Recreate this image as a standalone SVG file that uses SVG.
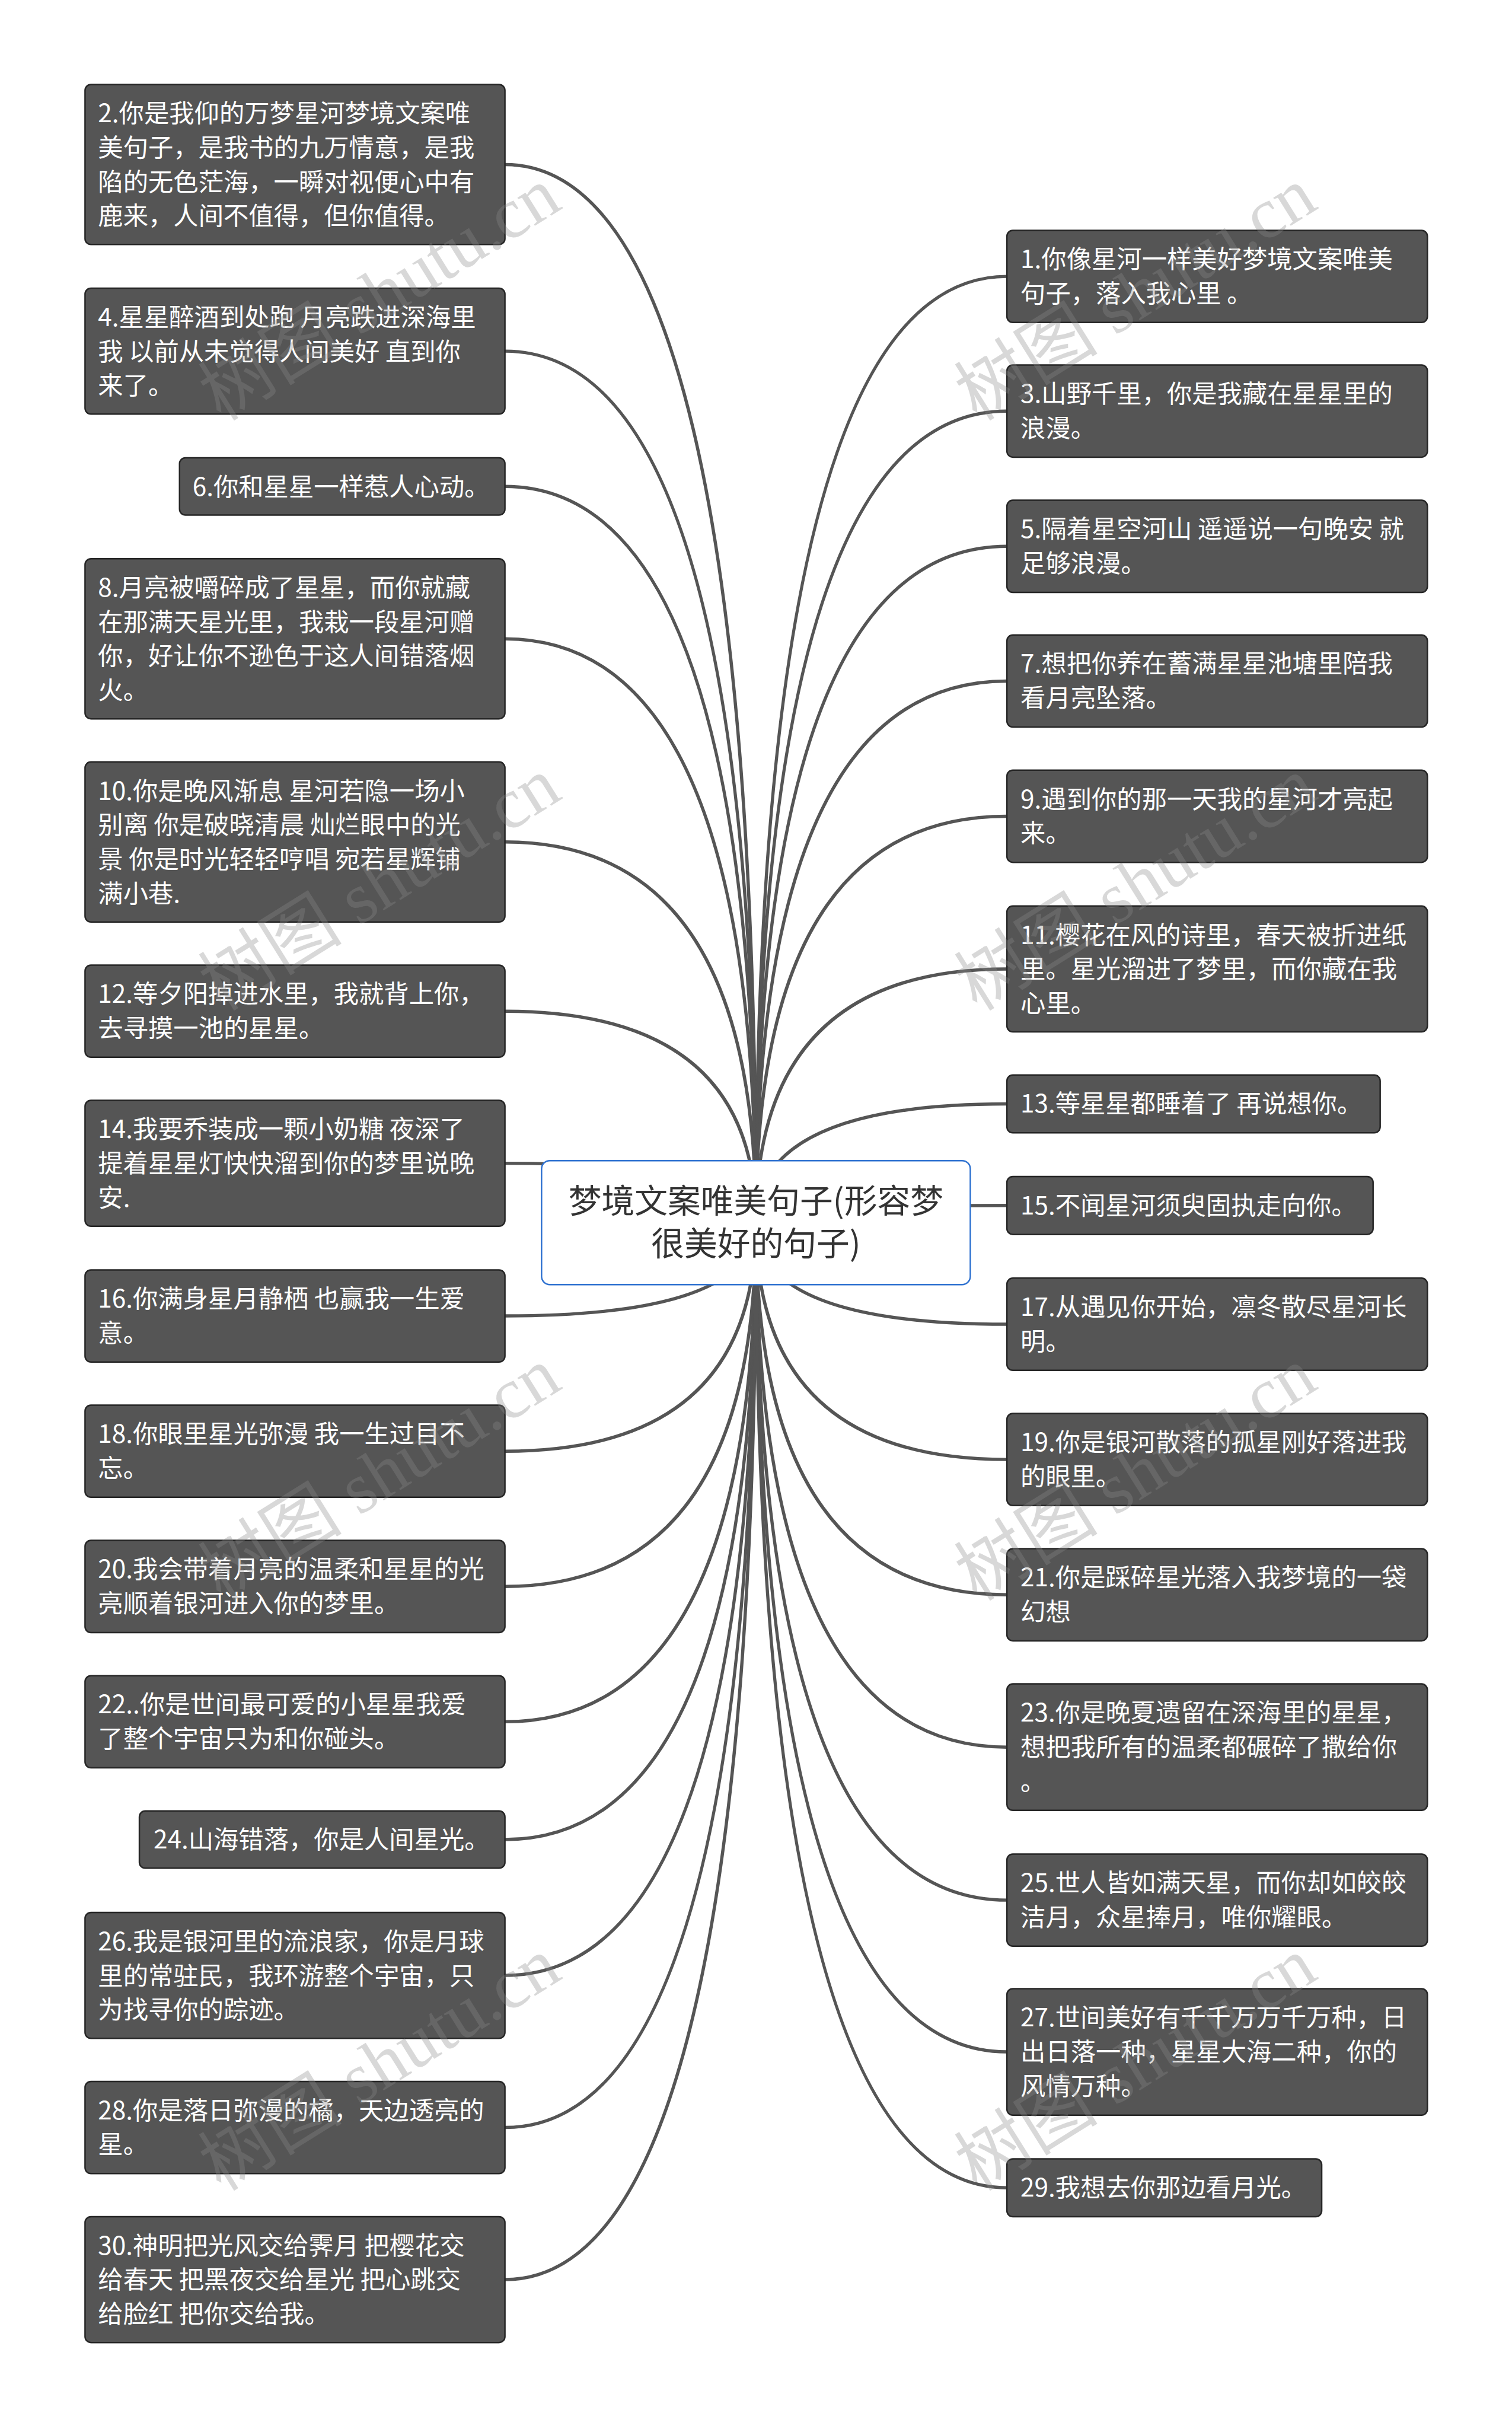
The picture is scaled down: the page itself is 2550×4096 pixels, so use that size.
<svg xmlns="http://www.w3.org/2000/svg" width="2550" height="4096" viewBox="0 0 2550 4096">
<style>
.n rect{fill:#555555;stroke:#262626;stroke-width:2.5}
.n text{fill:#ffffff;font-family:"Noto Sans CJK SC","Microsoft YaHei",sans-serif;font-size:42.5px}
#root rect{fill:#ffffff;stroke:#2f72d0;stroke-width:2.5}
#root text{fill:#333333;font-family:"Noto Sans CJK SC",sans-serif;font-size:56px;text-anchor:middle}
#connectors path{fill:none;stroke:#555555;stroke-width:5.5;stroke-linecap:round}
.wm{font-family:"Liberation Serif","Noto Sans CJK SC",serif;font-size:122px;fill:#8a8a8a;fill-opacity:0.33;text-anchor:middle;dominant-baseline:central}
</style>
<rect x="0" y="0" width="2550" height="4096" fill="#ffffff"/>
<g transform="scale(0.996)">
<g id="connectors">
<path d="M855,278.5 Q1280,278.5 1280,2070"/>
<path d="M855,594.5 Q1280,594.5 1280,2070"/>
<path d="M855,823.5 Q1280,823.5 1280,2070"/>
<path d="M855,1081.5 Q1280,1081.5 1280,2070"/>
<path d="M855,1425.5 Q1280,1425.5 1280,2070"/>
<path d="M855,1712 Q1280,1712 1280,2070"/>
<path d="M855,1969.5 Q1280,1969.5 1280,2070"/>
<path d="M855,2228 Q1280,2228 1280,2070"/>
<path d="M855,2457 Q1280,2457 1280,2070"/>
<path d="M855,2686 Q1280,2686 1280,2070"/>
<path d="M855,2915 Q1280,2915 1280,2070"/>
<path d="M855,3114.5 Q1280,3114.5 1280,2070"/>
<path d="M855,3344.5 Q1280,3344.5 1280,2070"/>
<path d="M855,3602 Q1280,3602 1280,2070"/>
<path d="M855,3859.5 Q1280,3859.5 1280,2070"/>
<path d="M1705,468 Q1280,468 1280,2070"/>
<path d="M1705,696 Q1280,696 1280,2070"/>
<path d="M1705,925 Q1280,925 1280,2070"/>
<path d="M1705,1153 Q1280,1153 1280,2070"/>
<path d="M1705,1382 Q1280,1382 1280,2070"/>
<path d="M1705,1640.5 Q1280,1640.5 1280,2070"/>
<path d="M1705,1869 Q1280,1869 1280,2070"/>
<path d="M1705,2041 Q1280,2041 1280,2070"/>
<path d="M1705,2242 Q1280,2242 1280,2070"/>
<path d="M1705,2471 Q1280,2471 1280,2070"/>
<path d="M1705,2700 Q1280,2700 1280,2070"/>
<path d="M1705,2958 Q1280,2958 1280,2070"/>
<path d="M1705,3217 Q1280,3217 1280,2070"/>
<path d="M1705,3474 Q1280,3474 1280,2070"/>
<path d="M1705,3704 Q1280,3704 1280,2070"/>
</g>
<g id="root">
<rect x="917" y="1965" width="726" height="210" rx="14"/>
<text x="1280" y="2053"><tspan x="1280" y="2053">梦境文案唯美句子(形容梦</tspan><tspan x="1280" y="2126">很美好的句子)</tspan></text>
</g>
<g id="n2" class="n"><rect x="144" y="143" width="711" height="271" rx="10"/>
<text x="166" y="207">2.你是我仰的万梦星河梦境文案唯</text><text x="166" y="265">美句子，是我书的九万情意，是我</text><text x="166" y="323">陷的无色茫海，一瞬对视便心中有</text><text x="166" y="381">鹿来，人间不值得，但你值得。</text></g>
<g id="n4" class="n"><rect x="144" y="488" width="711" height="213" rx="10"/>
<text x="166" y="552">4.星星醉酒到处跑 月亮跌进深海里</text><text x="166" y="610">我 以前从未觉得人间美好 直到你</text><text x="166" y="668">来了。</text></g>
<g id="n6" class="n"><rect x="304" y="775" width="551" height="97" rx="10"/>
<text x="326" y="839">6.你和星星一样惹人心动。</text></g>
<g id="n8" class="n"><rect x="144" y="946" width="711" height="271" rx="10"/>
<text x="166" y="1010">8.月亮被嚼碎成了星星，而你就藏</text><text x="166" y="1068">在那满天星光里，我栽一段星河赠</text><text x="166" y="1126">你，好让你不逊色于这人间错落烟</text><text x="166" y="1184">火。</text></g>
<g id="n10" class="n"><rect x="144" y="1290" width="711" height="271" rx="10"/>
<text x="166" y="1354">10.你是晚风渐息 星河若隐一场小</text><text x="166" y="1412">别离 你是破晓清晨 灿烂眼中的光</text><text x="166" y="1470">景 你是时光轻轻哼唱 宛若星辉铺</text><text x="166" y="1528">满小巷.</text></g>
<g id="n12" class="n"><rect x="144" y="1634" width="711" height="156" rx="10"/>
<text x="166" y="1698">12.等夕阳掉进水里，我就背上你，</text><text x="166" y="1756">去寻摸一池的星星。</text></g>
<g id="n14" class="n"><rect x="144" y="1863" width="711" height="213" rx="10"/>
<text x="166" y="1927">14.我要乔装成一颗小奶糖 夜深了</text><text x="166" y="1985">提着星星灯快快溜到你的梦里说晚</text><text x="166" y="2043">安.</text></g>
<g id="n16" class="n"><rect x="144" y="2150" width="711" height="156" rx="10"/>
<text x="166" y="2214">16.你满身星月静栖 也赢我一生爱</text><text x="166" y="2272">意。</text></g>
<g id="n18" class="n"><rect x="144" y="2379" width="711" height="156" rx="10"/>
<text x="166" y="2443">18.你眼里星光弥漫 我一生过目不</text><text x="166" y="2501">忘。</text></g>
<g id="n20" class="n"><rect x="144" y="2608" width="711" height="156" rx="10"/>
<text x="166" y="2672">20.我会带着月亮的温柔和星星的光</text><text x="166" y="2730">亮顺着银河进入你的梦里。</text></g>
<g id="n22" class="n"><rect x="144" y="2837" width="711" height="156" rx="10"/>
<text x="166" y="2901">22..你是世间最可爱的小星星我爱</text><text x="166" y="2959">了整个宇宙只为和你碰头。</text></g>
<g id="n24" class="n"><rect x="236" y="3066" width="619" height="97" rx="10"/>
<text x="260" y="3130">24.山海错落，你是人间星光。</text></g>
<g id="n26" class="n"><rect x="144" y="3238" width="711" height="213" rx="10"/>
<text x="166" y="3302">26.我是银河里的流浪家，你是月球</text><text x="166" y="3360">里的常驻民，我环游整个宇宙，只</text><text x="166" y="3418">为找寻你的踪迹。</text></g>
<g id="n28" class="n"><rect x="144" y="3524" width="711" height="156" rx="10"/>
<text x="166" y="3588">28.你是落日弥漫的橘，天边透亮的</text><text x="166" y="3646">星。</text></g>
<g id="n30" class="n"><rect x="144" y="3753" width="711" height="213" rx="10"/>
<text x="166" y="3817">30.神明把光风交给霁月 把樱花交</text><text x="166" y="3875">给春天 把黑夜交给星光 把心跳交</text><text x="166" y="3933">给脸红 把你交给我。</text></g>
<g id="n1" class="n"><rect x="1705" y="390" width="712" height="156" rx="10"/>
<text x="1728" y="454">1.你像星河一样美好梦境文案唯美</text><text x="1728" y="512">句子，落入我心里 。</text></g>
<g id="n3" class="n"><rect x="1705" y="618" width="712" height="156" rx="10"/>
<text x="1728" y="682">3.山野千里，你是我藏在星星里的</text><text x="1728" y="740">浪漫。</text></g>
<g id="n5" class="n"><rect x="1705" y="847" width="712" height="156" rx="10"/>
<text x="1728" y="911">5.隔着星空河山 遥遥说一句晚安 就</text><text x="1728" y="969">足够浪漫。</text></g>
<g id="n7" class="n"><rect x="1705" y="1075" width="712" height="156" rx="10"/>
<text x="1728" y="1139">7.想把你养在蓄满星星池塘里陪我</text><text x="1728" y="1197">看月亮坠落。</text></g>
<g id="n9" class="n"><rect x="1705" y="1304" width="712" height="156" rx="10"/>
<text x="1728" y="1368">9.遇到你的那一天我的星河才亮起</text><text x="1728" y="1426">来。</text></g>
<g id="n11" class="n"><rect x="1705" y="1534" width="712" height="213" rx="10"/>
<text x="1728" y="1598">11.樱花在风的诗里，春天被折进纸</text><text x="1728" y="1656">里。星光溜进了梦里，而你藏在我</text><text x="1728" y="1714">心里。</text></g>
<g id="n13" class="n"><rect x="1705" y="1820" width="632" height="98" rx="10"/>
<text x="1728" y="1884">13.等星星都睡着了 再说想你。</text></g>
<g id="n15" class="n"><rect x="1705" y="1992" width="620" height="98" rx="10"/>
<text x="1728" y="2056">15.不闻星河须臾固执走向你。</text></g>
<g id="n17" class="n"><rect x="1705" y="2164" width="712" height="156" rx="10"/>
<text x="1728" y="2228">17.从遇见你开始，凛冬散尽星河长</text><text x="1728" y="2286">明。</text></g>
<g id="n19" class="n"><rect x="1705" y="2393" width="712" height="156" rx="10"/>
<text x="1728" y="2457">19.你是银河散落的孤星刚好落进我</text><text x="1728" y="2515">的眼里。</text></g>
<g id="n21" class="n"><rect x="1705" y="2622" width="712" height="156" rx="10"/>
<text x="1728" y="2686">21.你是踩碎星光落入我梦境的一袋</text><text x="1728" y="2744">幻想</text></g>
<g id="n23" class="n"><rect x="1705" y="2851" width="712" height="214" rx="10"/>
<text x="1728" y="2915">23.你是晚夏遗留在深海里的星星，</text><text x="1728" y="2973">想把我所有的温柔都碾碎了撒给你</text><text x="1728" y="3031">。</text></g>
<g id="n25" class="n"><rect x="1705" y="3139" width="712" height="156" rx="10"/>
<text x="1728" y="3203">25.世人皆如满天星，而你却如皎皎</text><text x="1728" y="3261">洁月，众星捧月，唯你耀眼。</text></g>
<g id="n27" class="n"><rect x="1705" y="3367" width="712" height="214" rx="10"/>
<text x="1728" y="3431">27.世间美好有千千万万千万种，日</text><text x="1728" y="3489">出日落一种，星星大海二种，你的</text><text x="1728" y="3547">风情万种。</text></g>
<g id="n29" class="n"><rect x="1705" y="3655" width="533" height="98" rx="10"/>
<text x="1728" y="3719">29.我想去你那边看月光。</text></g>
<g id="watermarks">
<text class="wm" transform="translate(643,498) rotate(-32)">树图 shutu.cn</text>
<text class="wm" transform="translate(1923,498) rotate(-32)">树图 shutu.cn</text>
<text class="wm" transform="translate(643,1497) rotate(-32)">树图 shutu.cn</text>
<text class="wm" transform="translate(1923,1497) rotate(-32)">树图 shutu.cn</text>
<text class="wm" transform="translate(643,2496) rotate(-32)">树图 shutu.cn</text>
<text class="wm" transform="translate(1923,2496) rotate(-32)">树图 shutu.cn</text>
<text class="wm" transform="translate(643,3495) rotate(-32)">树图 shutu.cn</text>
<text class="wm" transform="translate(1923,3495) rotate(-32)">树图 shutu.cn</text>
</g>
</g>
</svg>
